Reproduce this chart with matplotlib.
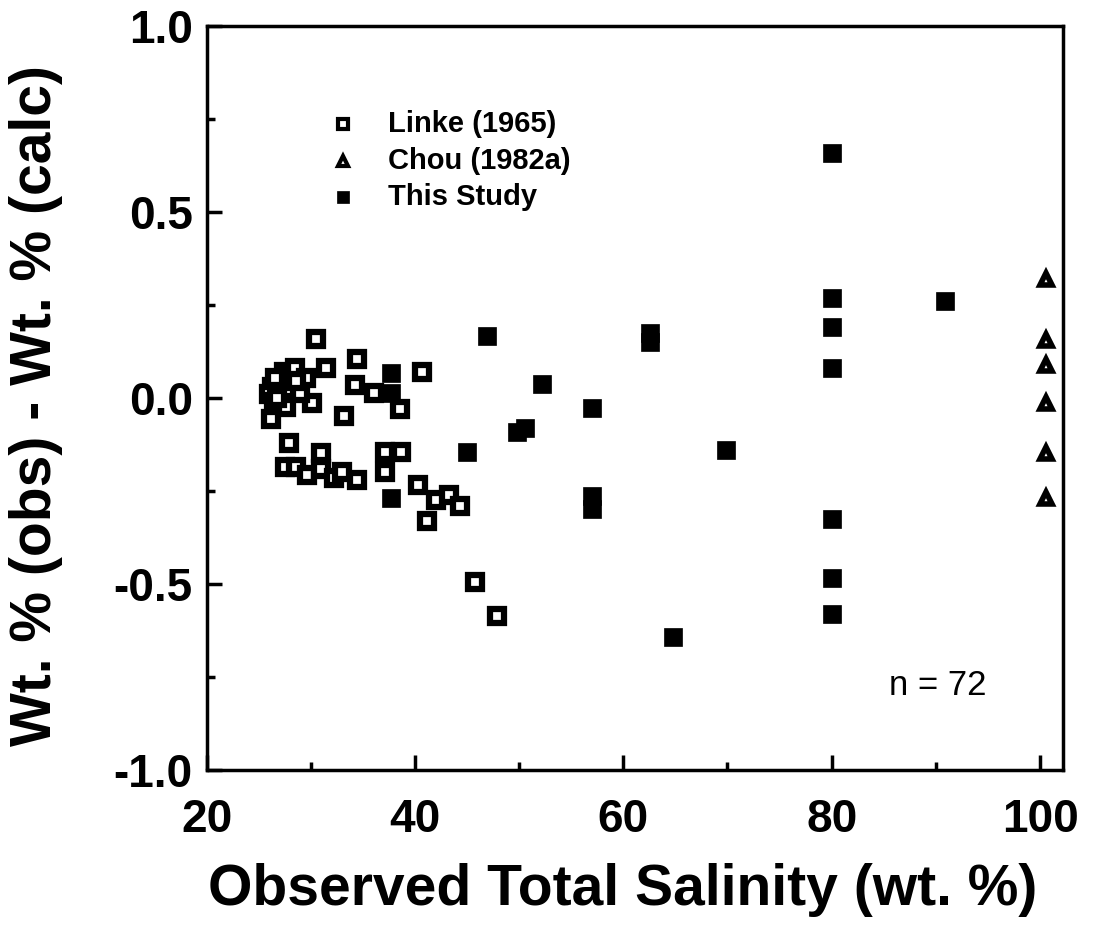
import matplotlib
matplotlib.use("Agg")
import matplotlib.pyplot as plt
from matplotlib.ticker import MultipleLocator, FormatStrFormatter

plt.rcParams['font.family'] = ['Liberation Sans', 'DejaVu Sans']
plt.rcParams['font.weight'] = 'bold'

# Linke (1965) - open squares
linke_x = [30.5, 34.4, 31.5, 40.7, 34.2, 36.1, 38.6, 33.2,
           30.1, 26.2, 27.4, 28.5, 29.5, 26.3, 26.0, 27.0, 28.0, 29.0, 26.5, 27.6, 28.6, 26.8, 26.6,
           27.9, 31.0, 27.5, 28.6, 29.6, 31.0, 32.2, 33.0, 34.4, 37.1, 38.7, 37.1, 40.3, 42.0,
           43.3, 44.3, 41.2, 45.8, 47.9]
linke_y = [0.16, 0.105, 0.08, 0.07, 0.035, 0.015, -0.03, -0.048,
           -0.013, -0.055, 0.07, 0.08, 0.055, 0.03, 0.01, 0.035, 0.025, 0.015, -0.01, -0.025, 0.045, 0.0, 0.055,
           -0.12, -0.148, -0.185, -0.185, -0.207, -0.19, -0.215, -0.20, -0.22, -0.145, -0.145, -0.20, -0.234, -0.274,
           -0.26, -0.29, -0.33, -0.495, -0.585]

# Chou (1982a) - open triangles
chou_x = [100.6, 100.6, 100.6, 100.6, 100.6, 100.6]
chou_y = [0.32, 0.156, 0.089, -0.013, -0.148, -0.27]

# This Study - filled squares
study_x = [80, 80, 80, 80, 80, 80, 80, 90.9, 46.9, 62.6, 62.6, 52.2, 57.0, 57.0, 57.0,
           49.8, 50.6, 45.0, 69.9, 64.8, 37.7, 37.7, 37.7]
study_y = [0.66, 0.27, 0.19, 0.08, -0.325, -0.485, -0.58, 0.26, 0.167, 0.175, 0.15, 0.038, -0.027, -0.263, -0.298,
           -0.09, -0.08, -0.145, -0.14, -0.642, 0.067, 0.013, -0.27]

fig = plt.figure(figsize=(10.93, 9.40), dpi=100)
ax = fig.add_axes([0.189, 0.181, 0.7835, 0.791])

ax.plot(linke_x, linke_y, ls='none', marker='s', ms=9.5, mfc='white', mec='black', mew=4.5, zorder=3)
ax.plot(chou_x, chou_y, ls='none', marker='^', ms=9, mfc='white', mec='black', mew=4, zorder=3)
ax.plot(study_x, study_y, ls='none', marker='s', ms=12.5, mfc='black', mec='black', mew=0.5, zorder=4)

ax.set_xlim(20, 102.2)
ax.set_ylim(-1.0, 1.0)
ax.xaxis.set_major_locator(MultipleLocator(20))
ax.xaxis.set_minor_locator(MultipleLocator(10))
ax.yaxis.set_major_locator(MultipleLocator(0.5))
ax.yaxis.set_minor_locator(MultipleLocator(0.25))
ax.yaxis.set_major_formatter(FormatStrFormatter('%.1f'))

for s in ax.spines.values():
    s.set_linewidth(2.5)

ax.tick_params(axis='both', which='major', direction='in', length=11, width=2.5, labelsize=33)
ax.tick_params(axis='both', which='minor', direction='in', length=6, width=2.5)
ax.tick_params(axis='x', which='major', pad=20)
ax.tick_params(axis='y', which='major', pad=10)
for lbl in ax.get_xticklabels() + ax.get_yticklabels():
    lbl.set_fontweight('bold')

ax.set_xlabel('Observed Total Salinity (wt. %)', fontsize=41, fontweight='bold')
ax.xaxis.set_label_coords(0.486, -0.125)
ax.set_ylabel('Wt. % (obs) - Wt. % (calc)', fontsize=41, fontweight='bold')
ax.yaxis.set_label_coords(-0.168, 0.49)

# legend drawn manually in axes coordinates
leg_items = [('s', 'white', 'Linke (1965)'), ('^', 'white', 'Chou (1982a)'), ('s', 'black', 'This Study')]
for i, (m, fc, lab) in enumerate(leg_items):
    yy = 0.868 - i * 0.0485
    ax.plot([0.159], [yy], transform=ax.transAxes, marker=m, ms=7 if fc == 'white' else 9,
            mfc=fc, mec='black', mew=3 if fc == 'white' else 0.5, ls='none', clip_on=False)
    ax.text(0.212, yy, lab, transform=ax.transAxes, fontsize=21, fontweight='bold', va='center', ha='left')

ax.text(0.797, 0.114, 'n = 72', transform=ax.transAxes, fontsize=25, fontweight='normal', ha='left', va='center')

fig.savefig('out.png', dpi=100)
